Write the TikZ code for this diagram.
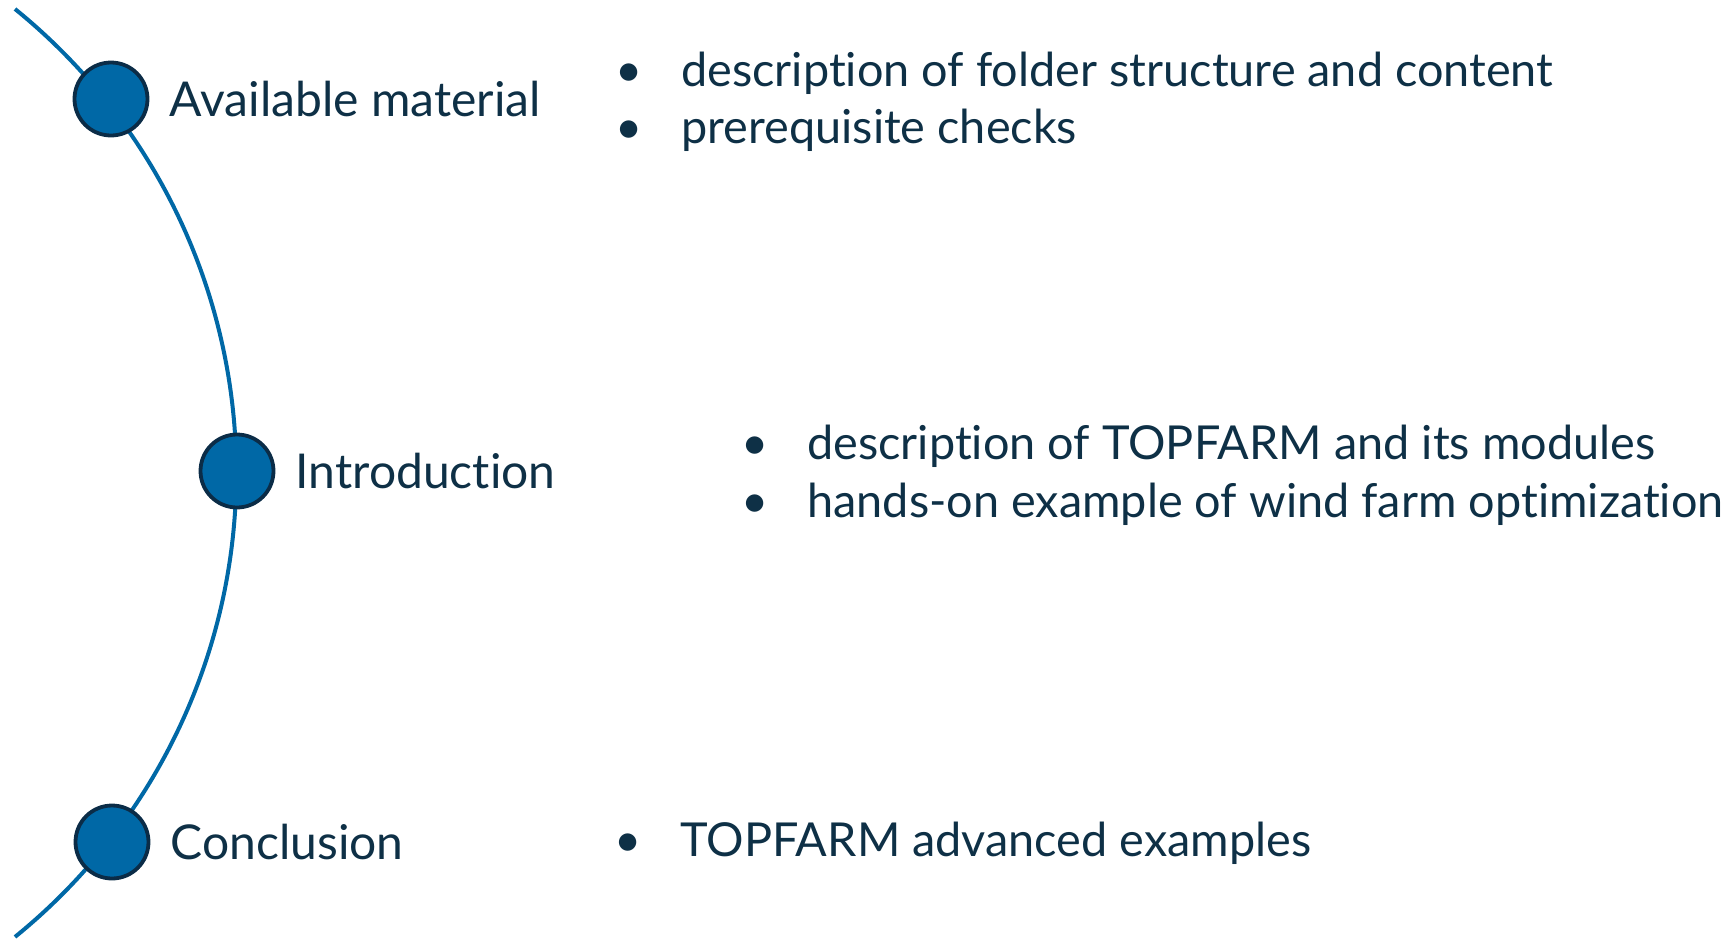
\documentclass[tikz,border=0pt]{standalone}
\usepackage{fontspec}
\setmainfont{Lato}[Ligatures={NoCommon,NoContextual}]
\usepackage{tikz}
\usetikzlibrary{positioning}

\definecolor{dotblue}{HTML}{0068A6}
\definecolor{dotrim}{HTML}{0B2C47}
\definecolor{inktext}{HTML}{0E3046}

\newcommand{\itembullet}{\makebox[33pt][l]{\textbullet}}

\tikzset{
    milestone/.style={circle, draw=dotrim, fill=dotblue, line width=1.9pt, minimum size=36.5pt, inner sep=0pt},
    steplabel/.style={anchor=west, text=inktext, inner sep=0pt, font=\fontsize{24}{28}\selectfont},
    itemline/.style={anchor=base west, text=inktext, inner sep=0pt, font=\fontsize{23.4}{28}\selectfont},
    timeline/.style={draw=dotblue, line width=2pt}
}

\begin{document}
\begin{tikzpicture}[x=0.5pt, y=0.5pt]
    \useasboundingbox (0,0) rectangle (1731,-938);

    \coordinate (arctop) at (15,-9);
    \draw [timeline] (arctop) arc[start angle=51, end angle=-51, radius=597];

    \node [milestone] (avail) at (111,-99) {};
    \node [milestone] (intro) at (237,-471) {};
    \node [milestone] (concl) at (112,-842) {};

    \node [steplabel, right=10pt of avail] (availtext) {Available material};
    \node [steplabel, right=10pt of intro] (introtext) {Introduction};
    \node [steplabel, right=10pt of concl] (concltext) {Conclusion};

    % bullet lists
    \node [itemline] (folder) at (615,-86) {\itembullet description of folder structure and content};
    \node [itemline] (checks) at (615,-143) {\itembullet prerequisite checks};

    \node [itemline] (modules) at (741,-459) {\itembullet description of TOPFARM and its modules};
    \node [itemline] (handson) at (741,-517) {\itembullet hands-on example of wind farm optimization};

    \node [itemline] (advanced) at (614,-856) {\itembullet TOPFARM advanced examples};

\end{tikzpicture}
\end{document}
